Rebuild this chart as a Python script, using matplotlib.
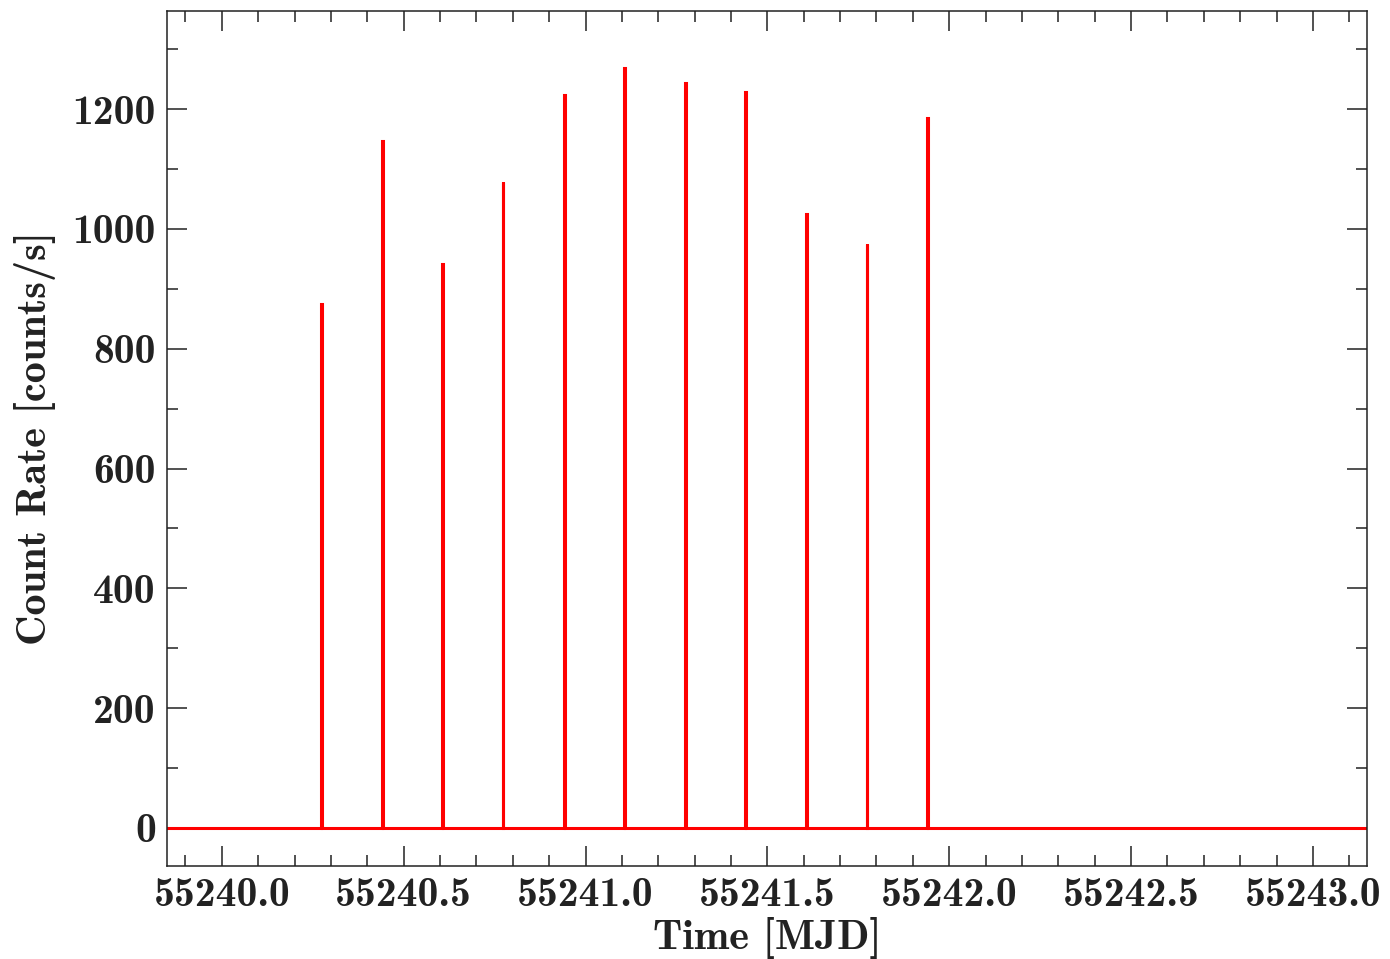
import numpy as np
import matplotlib
matplotlib.use("Agg")
import matplotlib.pyplot as plt
from matplotlib.ticker import MultipleLocator, FormatStrFormatter

# Observation (spike) times in MJD and peak count rates [counts/s]
spike_times = [55240.2750, 55240.4409, 55240.6070, 55240.7729, 55240.9415,
               55241.1076, 55241.2743, 55241.4404, 55241.6082, 55241.7741,
               55241.9410]
spike_rates = [875, 1146, 941, 1078, 1223, 1269, 1244, 1229, 1025, 975, 1185]
baseline_start = 55239.80
baseline_end = 55243.20
half_width = 0.0012

# build light curve from the values
t = [baseline_start]
r = [0.0]
for ti, ri in zip(spike_times, spike_rates):
    t += [ti - half_width, ti - half_width, ti + half_width, ti + half_width]
    r += [0.0, ri, ri, 0.0]
t.append(baseline_end)
r.append(0.0)

plt.rcParams['font.family'] = ['cmb10', 'DejaVu Serif']
plt.rcParams['axes.unicode_minus'] = False
plt.rcParams['mathtext.fontset'] = 'cm'

fig = plt.figure(figsize=(13.9, 9.59), dpi=100)
ax = fig.add_axes([0.1201, 0.0970, 0.9835 - 0.1201, 0.9885 - 0.0970])
ax.plot(t, r, color='#ff0000', lw=2.2, solid_joinstyle='miter')

ax.set_xlim(55239.849, 55243.149)
ax.set_ylim(-63.4, 1363.6)

ax.xaxis.set_major_locator(MultipleLocator(0.5))
ax.xaxis.set_minor_locator(MultipleLocator(0.1))
ax.yaxis.set_major_locator(MultipleLocator(200))
ax.yaxis.set_minor_locator(MultipleLocator(100))
ax.xaxis.set_major_formatter(FormatStrFormatter('%.1f'))
ax.yaxis.set_major_formatter(FormatStrFormatter('%d'))

txtc = '#222222'
ax.tick_params(which='both', direction='in', top=True, right=True,
               width=1.1, color='#222222')
ax.tick_params(which='major', length=14.4, labelsize=30, labelcolor=txtc, pad=8)
ax.tick_params(which='minor', length=8.0)
for s in ax.spines.values():
    s.set_linewidth(1.1)
    s.set_color('#222222')

ax.set_xlabel('Time [MJD]', fontsize=30.5, color=txtc, labelpad=2)
ax.set_ylabel('Count Rate [counts/s]', fontsize=30.5, color=txtc, labelpad=12)

fig.savefig('out.png', dpi=100)
